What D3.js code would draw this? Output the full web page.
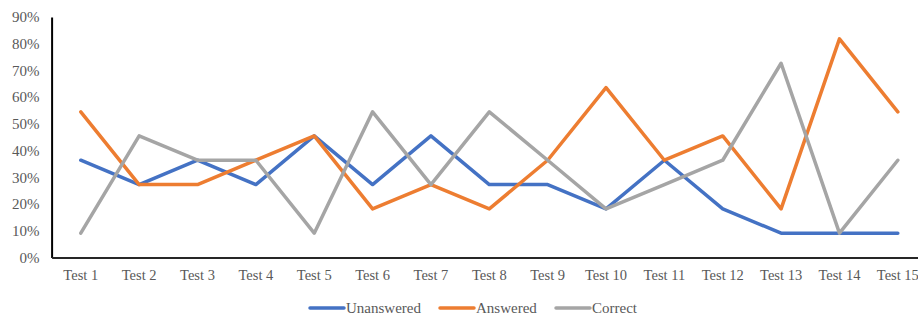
<!DOCTYPE html>
<html lang="en">
<head>
    <meta charset="UTF-8">
    <script src="https://cdn.jsdelivr.net/npm/d3@7"></script>
    <title>Tests</title>
    <style>
        body { margin: 0; background: #fff; }
        svg text { font-family: 'Liberation Serif', 'Times New Roman', Times, serif !important; fill: #595959; }
    </style>
</head>
<body>
    <svg width="918" height="318"></svg>

    <script>
        // data
        const categories = ['Test 1', 'Test 2', 'Test 3', 'Test 4', 'Test 5', 'Test 6', 'Test 7', 'Test 8',
                            'Test 9', 'Test 10', 'Test 11', 'Test 12', 'Test 13', 'Test 14', 'Test 15'];
        const unanswered = [0.364, 0.273, 0.364, 0.273, 0.455, 0.273, 0.455, 0.273, 0.273, 0.182, 0.364, 0.182, 0.091, 0.091, 0.091];
        const answered   = [0.545, 0.273, 0.273, 0.364, 0.455, 0.182, 0.273, 0.182, 0.364, 0.636, 0.364, 0.455, 0.182, 0.818, 0.545];
        const correct    = [0.091, 0.455, 0.364, 0.364, 0.091, 0.545, 0.273, 0.545, 0.364, 0.182, 0.273, 0.364, 0.727, 0.091, 0.364];
        const yTicks = [0, 0.1, 0.2, 0.3, 0.4, 0.5, 0.6, 0.7, 0.8, 0.9];

        const series = [
            { name: 'Unanswered', values: unanswered, color: '#4472C4' },
            { name: 'Answered', values: answered, color: '#ED7D31' },
            { name: 'Correct', values: correct, color: '#A5A5A5' }
        ];

        const svg = d3.select('svg');
        const plot = { left: 51.6, top: 17, bottom: 257.5, step: 58.36 };
        const font = "'Liberation Serif', 'Times New Roman', Times, serif";

        const xScale = d3.scaleBand()
            .domain(categories)
            .range([plot.left, plot.left + plot.step * categories.length]);
        const yScale = d3.scaleLinear()
            .domain([0, 0.9])
            .range([plot.bottom, plot.top]);

        // y axis
        const yAxis = svg.append('g')
            .attr('transform', `translate(${plot.left}, 0)`)
            .call(d3.axisLeft(yScale).tickValues(yTicks).tickFormat(d3.format('.0%')).tickSize(0).tickPadding(12))
            .attr('font-family', font)
            .attr('font-size', 15);
        yAxis.select('.domain').attr('stroke', '#000').attr('stroke-width', 2);
        yAxis.selectAll('text').attr('fill', '#595959');

        // lines
        const line = d3.line()
            .x((d, i) => xScale(categories[i]) + xScale.bandwidth() / 2)
            .y(d => yScale(d));

        svg.append('g')
            .selectAll('path')
            .data(series)
            .enter()
            .append('path')
            .attr('d', d => line(d.values))
            .attr('fill', 'none')
            .attr('stroke', d => d.color)
            .attr('stroke-width', 3.5)
            .attr('stroke-linejoin', 'round')
            .attr('stroke-linecap', 'round');

        // x axis
        const xAxis = svg.append('g')
            .attr('transform', `translate(0, ${plot.bottom})`)
            .call(d3.axisBottom(xScale).tickSize(0).tickPadding(12))
            .attr('font-family', font)
            .attr('font-size', 14.5);
        xAxis.select('.domain').attr('stroke', '#262626').attr('stroke-width', 2);
        xAxis.selectAll('text').attr('fill', '#595959');

        // legend
        const legendX = [310, 440, 556];
        const legend = svg.append('g')
            .attr('font-family', font)
            .selectAll('g')
            .data(series)
            .enter()
            .append('g')
            .attr('transform', (d, i) => `translate(${legendX[i]}, 308)`);
        legend.append('line')
            .attr('x1', 0).attr('x2', 34)
            .attr('stroke', d => d.color)
            .attr('stroke-width', 3.5)
            .attr('stroke-linecap', 'round');
        legend.append('text')
            .attr('x', 36)
            .attr('dy', '0.35em')
            .attr('font-size', 15)
            .text(d => d.name);
    </script>
</body>
</html>
